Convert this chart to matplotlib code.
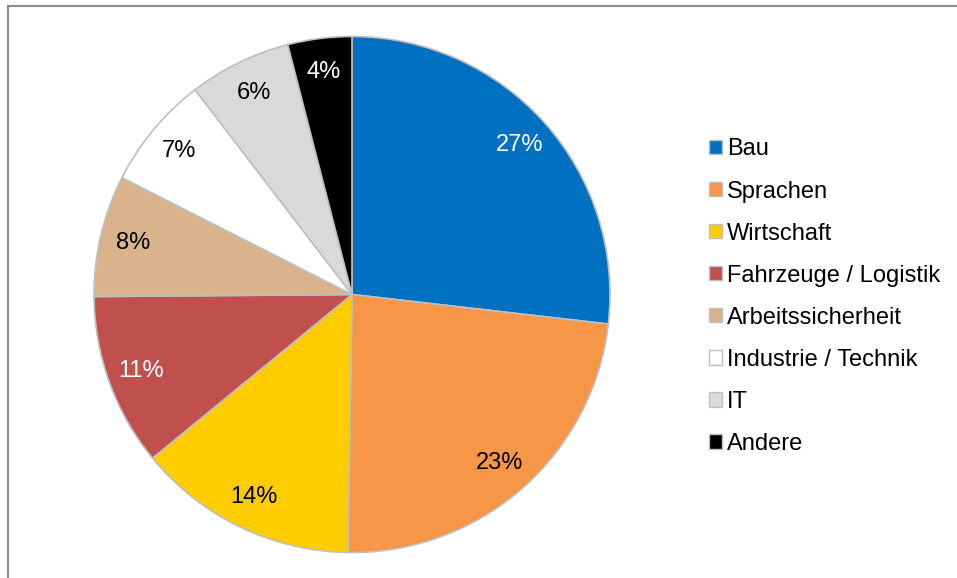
import matplotlib
matplotlib.use("Agg")
import matplotlib.pyplot as plt
from matplotlib.patches import Patch
from matplotlib.lines import Line2D

plt.rcParams['font.family'] = ['Liberation Sans', 'DejaVu Sans']

categories = ['Bau', 'Sprachen', 'Wirtschaft', 'Fahrzeuge / Logistik',
              'Arbeitssicherheit', 'Industrie / Technik', 'IT', 'Andere']
shares = [26.8, 23.4, 13.8, 10.8, 7.6, 7.1, 6.4, 4.0]
colors = ['#0070C0', '#F79646', '#FFCC00', '#C0504D',
          '#D9B38C', '#FFFFFF', '#D9D9D9', '#000000']
label_colors = ['white', 'black', 'black', 'white',
                'black', 'black', 'black', 'white']

fig = plt.figure(figsize=(9.57, 5.78), dpi=100)
# pie centre ~ (352, 294.5) px, radius ~ 258 px
size = 2 * 258 * 1.01
ax = fig.add_axes([(352 - size / 2) / 957, (578 - 294.5 - size / 2) / 578,
                   size / 957, size / 578])

wedges, texts, autotexts = ax.pie(
    shares, colors=colors, startangle=90, counterclock=False,
    autopct='%.0f%%', pctdistance=0.87, radius=1,
    wedgeprops=dict(edgecolor='#BFBFBF', linewidth=1.2),
    textprops=dict(fontsize=17))
for t, c in zip(autotexts, label_colors):
    t.set_color(c)
ax.set_xlim(-1.01, 1.01)
ax.set_ylim(-1.01, 1.01)
ax.set_aspect('equal')

handles = [Patch(facecolor=c, edgecolor='#BFBFBF', linewidth=1.0) for c in colors]
fig.legend(handles, categories, loc='upper left',
           bbox_to_anchor=(700 / 957, 1 - 129 / 578), frameon=False,
           fontsize=17, handlelength=0.55, handleheight=0.55,
           handletextpad=0.2, labelspacing=0.85, borderaxespad=0)

# chart frame (only top and left edges visible)
fig.add_artist(Line2D([8 / 957, 1.0], [1 - 6 / 578, 1 - 6 / 578],
                      color='#8C8C8C', linewidth=1.5, transform=fig.transFigure))
fig.add_artist(Line2D([8 / 957, 8 / 957], [0.0, 1 - 6 / 578],
                      color='#8C8C8C', linewidth=1.5, transform=fig.transFigure))

fig.savefig('out.png', dpi=100)
